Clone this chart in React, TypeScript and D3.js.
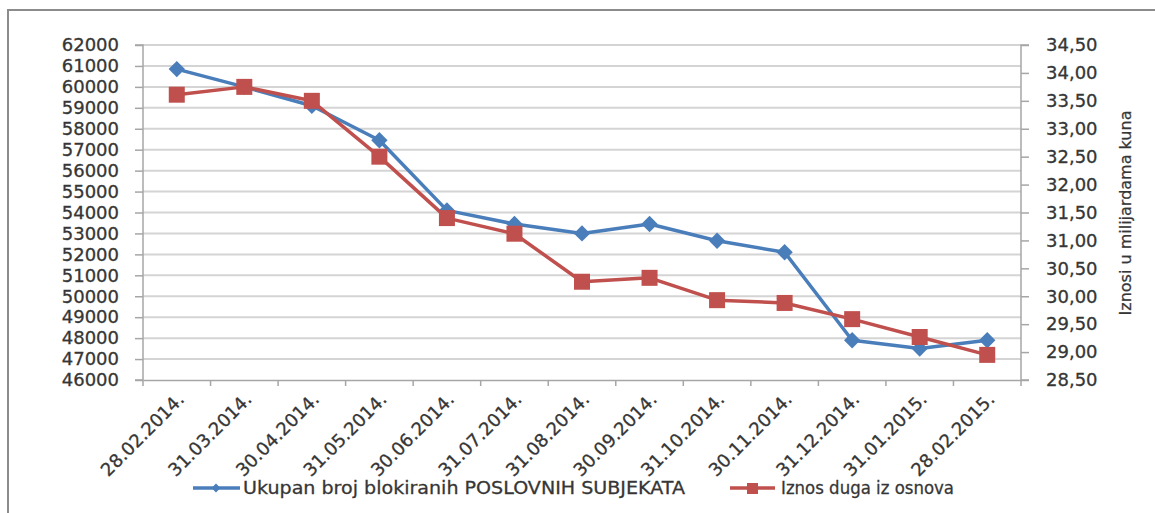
import React, { useEffect, useRef } from 'react';
import * as d3 from 'd3';

// kategorije (datumi)
const dates = [
  '28.02.2014.', '31.03.2014.', '30.04.2014.', '31.05.2014.', '30.06.2014.',
  '31.07.2014.', '31.08.2014.', '30.09.2014.', '31.10.2014.', '30.11.2014.',
  '31.12.2014.', '31.01.2015.', '28.02.2015.',
];

// broj blokiranih poslovnih subjekata (lijeva os)
const subjekti = [
  60850, 60000, 59100, 57450, 54100, 53450, 53000, 53450, 52650, 52100, 47900, 47500, 47900,
];

// iznos duga, mlrd kuna (desna os)
const dug = [
  33.61, 33.75, 33.5, 32.5, 31.4, 31.12, 30.26, 30.33, 29.93, 29.88, 29.59, 29.27, 28.95,
];

const leftTicks = d3.range(46000, 62001, 1000);
const rightTicks = d3.range(28.5, 34.51, 0.5);

const blueName = 'Ukupan broj blokiranih POSLOVNIH SUBJEKATA';
const redName = 'Iznos duga iz osnova';
const rightTitle = 'Iznosi u milijardama kuna';

const BLUE = '#4a7ebb';
const RED = '#c0504d';
const TXT = '#363636';
const FONT = 'DejaVu Sans';

export default function App() {
  const ref = useRef<SVGSVGElement>(null);

  useEffect(() => {
    document.body.style.margin = '0';
    const svg = d3.select(ref.current);
    svg.selectAll('*').remove();

    const left = 143, right = 1021, top = 45, bottom = 380;

    const x = d3.scaleBand().domain(dates).range([left, right]);
    const yL = d3.scaleLinear().domain([46000, 62000]).range([bottom, top]);
    const yR = d3.scaleLinear().domain([28.5, 34.5]).range([bottom, top]);
    const cx = (d: string) => (x(d) as number) + x.bandwidth() / 2;

    // okvir (vidljivi su samo gornji i lijevi rub)
    svg.append('path')
      .attr('d', 'M8,1000 V10 H1155')
      .attr('fill', 'none')
      .attr('stroke', '#8c8c8c')
      .attr('stroke-width', 2);

    // mreza
    svg.append('g').selectAll('line')
      .data(leftTicks.slice(1))
      .enter().append('line')
      .attr('x1', left).attr('x2', right)
      .attr('y1', d => yL(d)).attr('y2', d => yL(d))
      .attr('stroke', '#d4d4d4')
      .attr('stroke-width', 2);

    // lijeva os
    const gL = svg.append('g').attr('transform', `translate(${left},0)`)
      .call(d3.axisLeft(yL).tickValues(leftTicks).tickSize(8).tickPadding(16).tickFormat(d3.format('d')));
    // desna os
    const gR = svg.append('g').attr('transform', `translate(${right},0)`)
      .call(d3.axisRight(yR).tickValues(rightTicks).tickSize(8).tickPadding(17)
        .tickFormat(d => d3.format('.2f')(d as number).replace('.', ',')));
    // donja os
    const gB = svg.append('g').attr('transform', `translate(0,${bottom})`)
      .call(d3.axisBottom(x).tickSize(0).tickFormat(() => ''));
    gB.selectAll('.tick').remove();
    gB.selectAll('line.bt')
      .data(dates.map(d => x(d) as number).concat([right]))
      .enter().append('line')
      .attr('class', 'bt')
      .attr('x1', d => d).attr('x2', d => d)
      .attr('y1', 0).attr('y2', 6)
      .attr('stroke', '#a6a6a6').attr('stroke-width', 1.5);

    [gL, gR, gB].forEach(g => {
      g.select('.domain').attr('stroke', '#a6a6a6').attr('stroke-width', 1.5);
      g.selectAll('.tick line').attr('stroke', '#a6a6a6').attr('stroke-width', 1.5);
      g.selectAll('text')
        .attr('font-family', FONT)
        .attr('font-size', 18)
        .attr('fill', TXT)
        .attr('stroke', TXT)
        .attr('stroke-width', 0.3);
    });
    gL.select('.domain').attr('d', `M-8,${top}H0V${bottom}H-8`);
    gR.select('.domain').attr('d', `M8,${top}H0V${bottom}H8`);

    // oznake datuma
    svg.append('g').selectAll('text')
      .data(dates)
      .enter().append('text')
      .attr('transform', d => `translate(${cx(d) + 4},${bottom + 16}) rotate(-45)`)
      .attr('text-anchor', 'end')
      .attr('dy', '0.35em')
      .attr('font-family', FONT)
      .attr('font-size', 18)
      .attr('fill', TXT)
      .attr('stroke', TXT)
      .attr('stroke-width', 0.3)
      .text(d => d);

    // linije
    const lineL = d3.line<number>().x((_, i) => cx(dates[i])).y(d => yL(d));
    const lineR = d3.line<number>().x((_, i) => cx(dates[i])).y(d => yR(d));

    svg.append('path').datum(subjekti)
      .attr('d', lineL).attr('fill', 'none')
      .attr('stroke', BLUE).attr('stroke-width', 3.5).attr('stroke-linejoin', 'round');

    svg.append('g').selectAll('path')
      .data(subjekti)
      .enter().append('path')
      .attr('d', d3.symbol(d3.symbolDiamond2, 170))
      .attr('transform', (d, i) => `translate(${cx(dates[i])},${yL(d)})`)
      .attr('fill', BLUE);

    svg.append('path').datum(dug)
      .attr('d', lineR).attr('fill', 'none')
      .attr('stroke', RED).attr('stroke-width', 3.5).attr('stroke-linejoin', 'round');

    svg.append('g').selectAll('rect')
      .data(dug)
      .enter().append('rect')
      .attr('x', (d, i) => cx(dates[i]) - 8)
      .attr('y', d => yR(d) - 8)
      .attr('width', 16).attr('height', 16)
      .attr('fill', RED);

    // naslov desne osi
    svg.append('text')
      .attr('transform', 'translate(1131,213) rotate(-90)')
      .attr('text-anchor', 'middle')
      .attr('font-family', FONT)
      .attr('font-size', 16)
      .attr('fill', TXT)
      .attr('stroke', TXT)
      .attr('stroke-width', 0.25)
      .text(rightTitle);

    // legenda
    const leg = svg.append('g').attr('font-family', FONT).attr('font-size', 18)
      .attr('fill', TXT).attr('stroke', TXT).attr('stroke-width', 0.3);
    leg.append('line').attr('x1', 193).attr('x2', 240).attr('y1', 488).attr('y2', 488)
      .attr('stroke', BLUE).attr('stroke-width', 3.5);
    leg.append('path').attr('d', d3.symbol(d3.symbolDiamond2, 50))
      .attr('transform', 'translate(216,488)').attr('fill', BLUE).attr('stroke', 'none');
    leg.append('text').attr('x', 243).attr('y', 494)
      .attr('textLength', 442).attr('lengthAdjust', 'spacingAndGlyphs').text(blueName);

    leg.append('line').attr('x1', 730).attr('x2', 775).attr('y1', 488).attr('y2', 488)
      .attr('stroke', RED).attr('stroke-width', 3.5);
    leg.append('rect').attr('x', 747).attr('y', 483).attr('width', 11).attr('height', 11)
      .attr('fill', RED).attr('stroke', 'none');
    leg.append('text').attr('x', 781).attr('y', 494)
      .attr('textLength', 173).attr('lengthAdjust', 'spacingAndGlyphs').text(redName);
  }, []);

  return <svg ref={ref} width={1155} height={513} style={{ display: 'block', background: '#fff' }} />;
}
